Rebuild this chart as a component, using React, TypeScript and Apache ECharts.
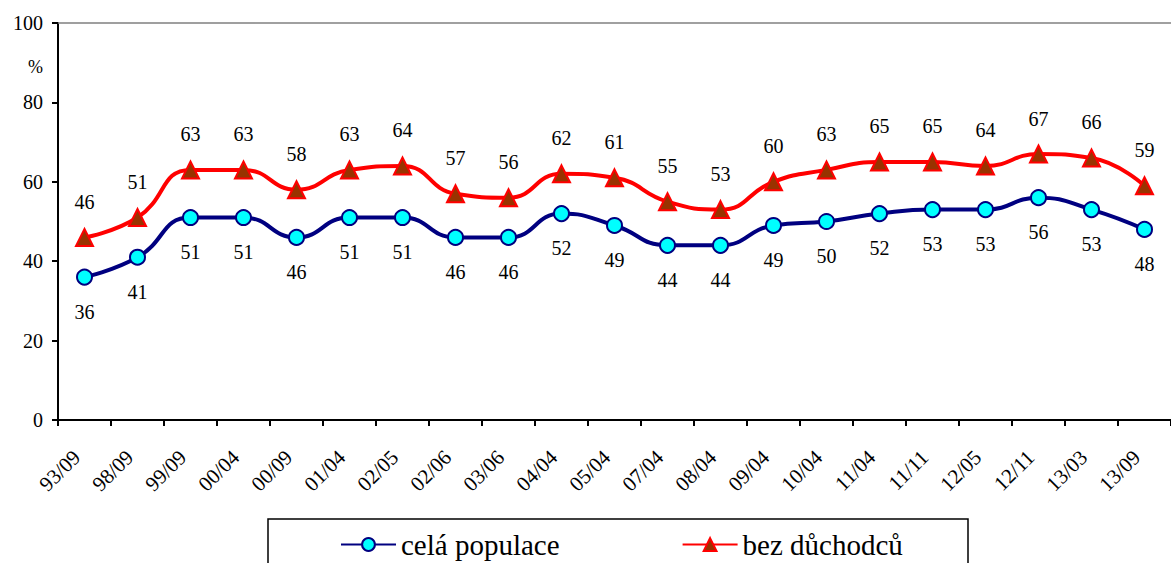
import React, { useEffect, useRef } from "react";
import * as echarts from "echarts";

const categories = ["93/09", "98/09", "99/09", "00/04", "00/09", "01/04", "02/05", "02/06", "03/06", "04/04", "05/04", "07/04", "08/04", "09/04", "10/04", "11/04", "11/11", "12/05", "12/11", "13/03", "13/09"];
const celaPopulace = [36, 41, 51, 51, 46, 51, 51, 46, 46, 52, 49, 44, 44, 49, 50, 52, 53, 53, 56, 53, 48];
const bezDuchodcu = [46, 51, 63, 63, 58, 63, 64, 57, 56, 62, 61, 55, 53, 60, 63, 65, 65, 64, 67, 66, 59];
const yTicks = [0, 20, 40, 60, 80, 100];

const FONT = "'Liberation Serif', 'Times New Roman', serif";

export default function App() {
  const ref = useRef<HTMLDivElement>(null);
  useEffect(() => {
    if (!ref.current) return;
    const chart = echarts.init(ref.current, undefined, { renderer: "svg" });
    chart.setOption({
      animation: false,
      backgroundColor: "#ffffff",
      textStyle: { fontFamily: FONT, color: "#000" },
      grid: { left: 58, top: 23, width: 1120, height: 397 },
      xAxis: [
        {
          type: "category",
          data: categories,
          boundaryGap: true,
          axisLine: { lineStyle: { color: "#000", width: 2 } },
          axisTick: { show: true, length: 6, lineStyle: { color: "#000", width: 2 } },
          axisLabel: { rotate: 45, fontSize: 21, fontFamily: FONT, color: "#000", margin: 26, interval: 0, padding: [0, 11, 0, 0] },
          splitLine: { show: false },
        },
        {
          type: "category",
          data: categories,
          position: "top",
          axisLine: { show: true, lineStyle: { color: "#808080", width: 1.5 } },
          axisTick: { show: false },
          axisLabel: { show: false },
        },
      ],
      yAxis: {
        type: "value",
        min: yTicks[0],
        max: yTicks[yTicks.length - 1],
        interval: 20,
        axisLine: { show: true, lineStyle: { color: "#000", width: 2 } },
        axisTick: { show: true, length: 6, lineStyle: { color: "#000", width: 2 } },
        axisLabel: { fontSize: 20, fontFamily: FONT, color: "#000", margin: 15 },
        splitLine: { show: false },
      },
      legend: {
        left: 335,
        top: 525,
        itemGap: 122,
        itemWidth: 55,
        itemHeight: 16,
        textStyle: { fontSize: 29, fontFamily: FONT, color: "#000" },
        data: ["celá populace", "bez důchodců"],
      },
      graphic: [
        {
          type: "rect",
          shape: { x: 268, y: 519, width: 700, height: 60 },
          style: { fill: "none", stroke: "#000", lineWidth: 1.5 },
          silent: true,
        },
        {
          type: "text",
          x: 28,
          y: 58,
          style: { text: "%", fontSize: 18, fontFamily: FONT, fill: "#000" },
        },
      ],
      series: [
        {
          name: "celá populace",
          type: "line",
          data: celaPopulace,
          smooth: 0.5,
          symbol: "circle",
          symbolSize: 15,
          lineStyle: { color: "#000080", width: 4 },
          itemStyle: { color: "#00FFFF", borderColor: "#000080", borderWidth: 2 },
          label: { show: true, position: "bottom", distance: 16, fontSize: 20, fontFamily: FONT, color: "#000" },
          z: 2,
        },
        {
          name: "bez důchodců",
          type: "line",
          data: bezDuchodcu,
          smooth: 0.5,
          symbol: "triangle",
          symbolSize: 17,
          lineStyle: { color: "#FF0000", width: 4 },
          itemStyle: { color: "#993300", borderColor: "#FF0000", borderWidth: 2 },
          label: { show: true, position: "top", distance: 16, fontSize: 20, fontFamily: FONT, color: "#000" },
          z: 3,
        },
      ],
    });
    return () => chart.dispose();
  }, []);
  return <div ref={ref} style={{ position: "fixed", left: 0, top: 0, width: 1171, height: 563 }} />;
}
